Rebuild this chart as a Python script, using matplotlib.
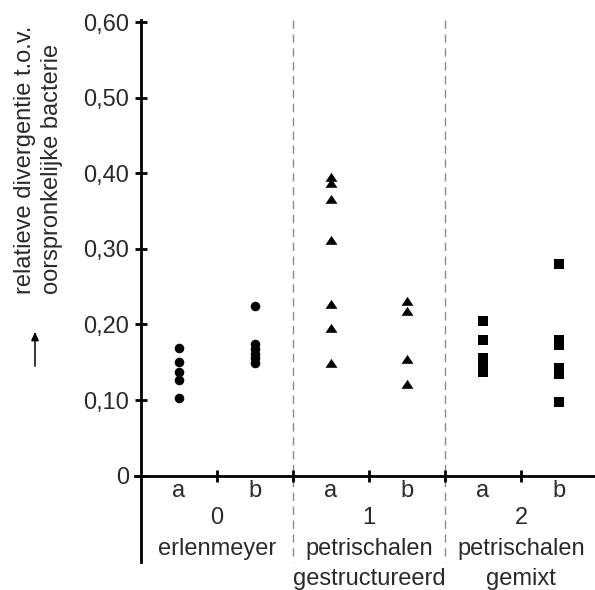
import matplotlib
matplotlib.use("Agg")
import matplotlib.pyplot as plt
from matplotlib.lines import Line2D

plt.rcParams['font.family'] = ['Liberation Sans', 'DejaVu Sans']

# ---- data ----
categories = ["a", "b", "a", "b", "a", "b"]
group_numbers = ["0", "1", "2"]
group_line1 = ["erlenmeyer", "petrischalen", "petrischalen"]
group_line2 = ["", "gestructureerd", "gemixt"]
yticks = [0.0, 0.1, 0.2, 0.3, 0.4, 0.5, 0.6]
yticklabels = ["0", "0,10", "0,20", "0,30", "0,40", "0,50", "0,60"]

erlen_a = [0.169, 0.150, 0.137, 0.127, 0.103]
erlen_b = [0.224, 0.174, 0.167, 0.161, 0.155, 0.149]
struct_a = [0.395, 0.387, 0.366, 0.312, 0.227, 0.195, 0.149]
struct_b = [0.231, 0.218, 0.154, 0.121]
mixed_a = [0.205, 0.179, 0.155, 0.146, 0.137]
mixed_b = [0.280, 0.179, 0.173, 0.142, 0.135, 0.097]

W, H = 595, 590
fig = plt.figure(figsize=(W / 100, H / 100), dpi=100)
ax_l, ax_r = 141, 597
ax_top, ax_bot = 22, 475.7
ax = fig.add_axes([ax_l / W, (H - ax_bot) / H, (ax_r - ax_l) / W, (ax_bot - ax_top) / H])
ax.set_xlim(-0.5, 5.5)
ax.set_ylim(0, 0.6)

def ay(py):
    return (ax_bot - py) / (ax_bot - ax_top)

def ax_frac(px):
    return (px - ax_l) / (ax_r - ax_l)

txtc = '#2a2a2a'
fs = 17

# markers
tri = [(-1, -0.72), (1, -0.72), (0, 0.78)]
ax.plot([0] * len(erlen_a), erlen_a, 'o', color='black', ms=6.9, mew=0, clip_on=False)
ax.plot([1] * len(erlen_b), erlen_b, 'o', color='black', ms=6.9, mew=0, clip_on=False)
ax.plot([2] * len(struct_a), struct_a, linestyle='none', marker=tri, color='black', ms=8.6, mew=0)
ax.plot([3] * len(struct_b), struct_b, linestyle='none', marker=tri, color='black', ms=8.6, mew=0)
ax.plot([4] * len(mixed_a), mixed_a, 's', color='black', ms=6.6, mew=0)
ax.plot([5] * len(mixed_b), mixed_b, 's', color='black', ms=6.6, mew=0)

# spines
for s in ax.spines.values():
    s.set_visible(False)
ax.add_line(Line2D([0, 0], [1.005, ay(562)], transform=ax.transAxes, color='black', lw=2, clip_on=False))
ax.add_line(Line2D([ax_frac(135), 1], [0, 0], transform=ax.transAxes, color='black', lw=2, clip_on=False))

# dashed separators
for xv in [1.5, 3.5]:
    ax.add_line(Line2D([xv, xv], [ay(20), ay(562)], transform=ax.get_xaxis_transform(),
                       color='#8c8c8c', lw=1, dashes=(6, 4), clip_on=False, zorder=0))

# ticks
ax.set_yticks(yticks)
ax.set_yticklabels(yticklabels)
ax.tick_params(axis='y', direction='inout', length=9, width=2, labelsize=fs, labelcolor=txtc, pad=4)
ax.set_xticks([0.5, 1.5, 2.5, 3.5, 4.5])
ax.set_xticklabels([])
ax.tick_params(axis='x', direction='inout', length=9, width=2)

# category labels
xt = ax.get_xaxis_transform()
for i, c in enumerate(categories):
    ax.text(i, ay(497), c, transform=xt, ha='center', va='baseline', fontsize=fs, color=txtc)
for g in range(3):
    ax.text(2 * g + 0.5, ay(524), group_numbers[g], transform=xt, ha='center', va='baseline', fontsize=fs, color=txtc)
    ax.text(2 * g + 0.5, ay(555), group_line1[g], transform=xt, ha='center', va='baseline', fontsize=fs, color=txtc)
    if group_line2[g]:
        ax.text(2 * g + 0.5, ay(585), group_line2[g], transform=xt, ha='center', va='baseline', fontsize=fs, color=txtc)

# y label
fig.text(25 / W, (H - 294) / H, "relatieve divergentie t.o.v.", rotation=90, rotation_mode='anchor',
         ha='left', va='center', fontsize=fs, color=txtc)
fig.text(52 / W, (H - 294) / H, "oorspronkelijke bacterie", rotation=90, rotation_mode='anchor',
         ha='left', va='center', fontsize=fs, color=txtc)
fig.add_artist(matplotlib.patches.FancyArrowPatch((35 / W, (H - 369) / H), (35 / W, (H - 329) / H),
               transform=fig.transFigure, arrowstyle='-|>,head_length=5,head_width=2.2',
               color='black', lw=1.1, mutation_scale=1))

fig.savefig("out.png", dpi=100)
